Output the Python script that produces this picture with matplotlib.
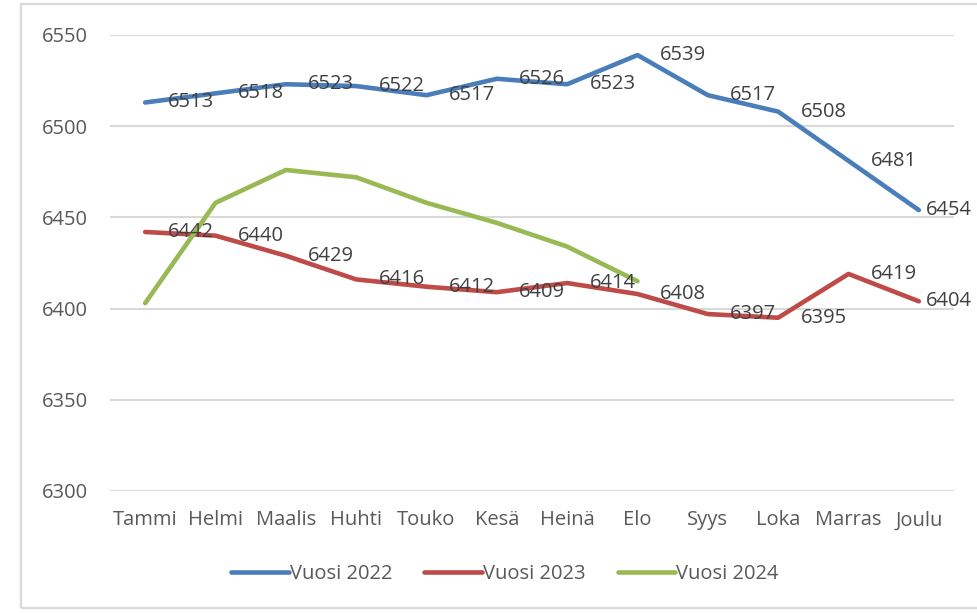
import matplotlib
matplotlib.use('Agg')
import matplotlib.pyplot as plt
from matplotlib.patches import Rectangle

plt.rcParams['font.family'] = ['Open Sans', 'DejaVu Sans']

months = ['Tammi', 'Helmi', 'Maalis', 'Huhti', 'Touko', 'Kesä',
          'Heinä', 'Elo', 'Syys', 'Loka', 'Marras', 'Joulu']
v2022 = [6513, 6518, 6523, 6522, 6517, 6526, 6523, 6539, 6517, 6508, 6481, 6454]
v2023 = [6442, 6440, 6429, 6416, 6412, 6409, 6414, 6408, 6397, 6395, 6419, 6404]
v2024 = [6403, 6458, 6476, 6472, 6458, 6447, 6434, 6415]
yticks = [6300, 6350, 6400, 6450, 6500, 6550]

c22, c23, c24 = '#4A7EBB', '#BE4B48', '#98B954'
fs = 14.5

fig = plt.figure(figsize=(9.77, 6.13), dpi=100)
ax = fig.add_axes([110 / 977, 122 / 613, 844 / 977, 456 / 613])

x = list(range(len(months)))
ax.plot(x, v2022, color=c22, lw=3.3, label='Vuosi 2022', solid_capstyle='round', zorder=3)
ax.plot(x, v2023, color=c23, lw=3.3, label='Vuosi 2023', solid_capstyle='round', zorder=3)
ax.plot(x[:len(v2024)], v2024, color=c24, lw=3.3, label='Vuosi 2024', solid_capstyle='round', zorder=3)

# data labels right of the points (2022 and 2023 only); last one squeezed in like Excel does
last = len(months) - 1
for vals in (v2022, v2023):
    for i, v in enumerate(vals):
        dx = 5 if i == last else 16
        ax.annotate(str(v), (i, v), xytext=(dx, 0), textcoords='offset points',
                    ha='left', va='center', fontsize=fs, color='#404040', zorder=4,
                    annotation_clip=False)

ax.set_xlim(-0.5, len(months) - 0.5)
ax.set_ylim(6300, 6550)
ax.set_yticks(yticks)
ax.set_xticks(x)
ax.set_xticklabels(months)
ax.grid(axis='y', color='#D9D9D9', lw=1.5)
ax.set_axisbelow(True)
for s in ax.spines.values():
    s.set_visible(False)
ax.tick_params(length=0, labelsize=fs, labelcolor='#595959')
ax.tick_params(axis='y', pad=16)
ax.tick_params(axis='x', pad=14)

fig.legend(loc='center', bbox_to_anchor=(505 / 977, 0.063), ncol=3, frameon=False,
           fontsize=fs, labelcolor='#595959', handlelength=2.85, handletextpad=0.05,
           columnspacing=1.6)

fig.patches.append(Rectangle((21 / 977, 5 / 613), 1.2, 604 / 613, transform=fig.transFigure,
                             fill=False, edgecolor='#D9D9D9', lw=1.6, figure=fig))

fig.savefig('out.png', dpi=100)
